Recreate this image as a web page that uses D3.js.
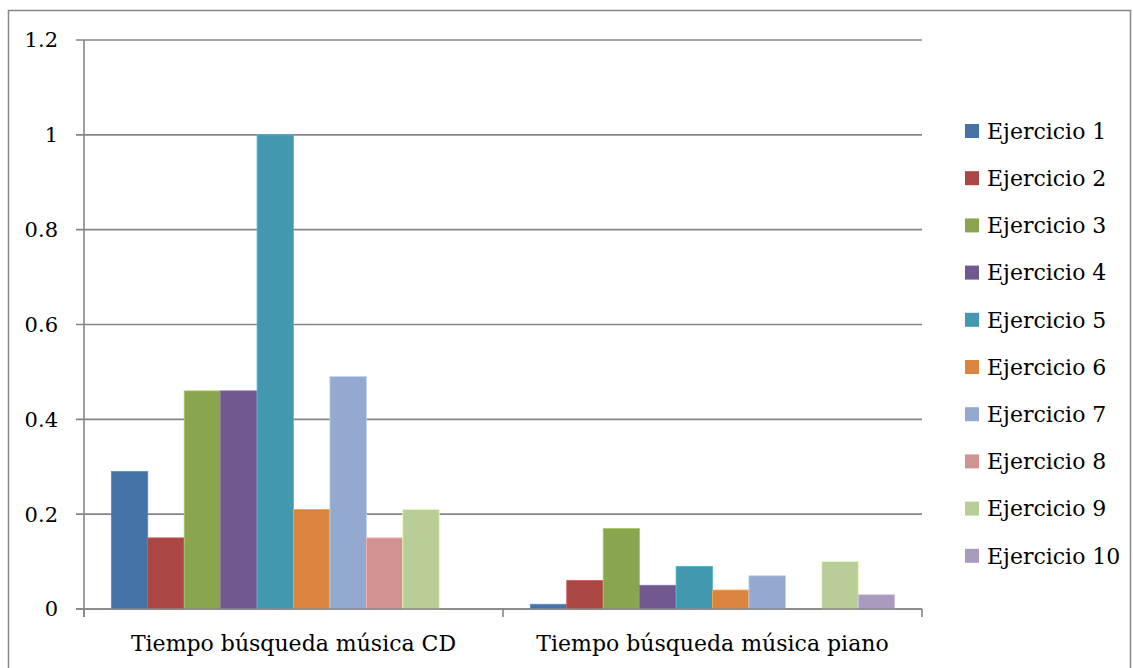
<!DOCTYPE html>
<html>
  <head>
    <meta charset="utf-8">
    <script src="https://d3js.org/d3.v7.min.js"></script>
    <style>
      body { margin: 0; background: white; }
      text { font-family: "DejaVu Serif", serif; fill: #000; }
    </style>
  </head>
  <body>
    <div id="chart"></div>
    <script>
      // data
      const categories = ['Tiempo búsqueda música CD', 'Tiempo búsqueda música piano']
      const series = ['Ejercicio 1', 'Ejercicio 2', 'Ejercicio 3', 'Ejercicio 4', 'Ejercicio 5',
                      'Ejercicio 6', 'Ejercicio 7', 'Ejercicio 8', 'Ejercicio 9', 'Ejercicio 10']
      const cdValues    = [0.29, 0.15, 0.46, 0.46, 1.00, 0.21, 0.49, 0.15, 0.21, 0]
      const pianoValues = [0.01, 0.06, 0.17, 0.05, 0.09, 0.04, 0.07, 0,    0.10, 0.03]
      const yTicks = [0, 0.2, 0.4, 0.6, 0.8, 1, 1.2]
      const colors = ['#4572A7', '#AA4643', '#89A54E', '#71588F', '#4198AF',
                      '#DB843D', '#93A9CF', '#D19392', '#B9CD96', '#A99BBD']

      const W = 1133, H = 668
      const plot = {left: 84, right: 922, top: 40, bottom: 609}
      const grid = '#868686'

      const svg = d3.select('#chart').append('svg')
        .attr('width', W).attr('height', H)

      // outer frame
      svg.append('rect')
        .attr('x', 8.5).attr('y', 10.5)
        .attr('width', 1122).attr('height', 700)
        .attr('fill', 'none').attr('stroke', grid).attr('stroke-width', 1.5)

      const y = d3.scaleLinear().domain([0, 1.2]).range([plot.bottom, plot.top])
      const x0 = d3.scaleBand().domain(categories).range([plot.left, plot.right])
      // excel gap width 150% -> 0.75 bar each side
      const x1 = d3.scaleBand().domain(series)
        .range([0, x0.bandwidth()])
        .paddingOuter(0.75).paddingInner(0)

      // gridlines
      svg.append('g').selectAll('line')
        .data(yTicks)
        .join('line')
          .attr('x1', plot.left - 8).attr('x2', plot.right)
          .attr('y1', d => y(d)).attr('y2', d => y(d))
          .attr('stroke', grid).attr('stroke-width', 1.6)

      // y labels
      svg.append('g').selectAll('text')
        .data(yTicks)
        .join('text')
          .attr('x', 58).attr('y', d => y(d))
          .attr('dy', '0.35em')
          .attr('text-anchor', 'end')
          .style('font-size', '21px')
          .text(d => d3.format('')(d))

      const data = categories.map((c, i) => ({
        cat: c,
        vals: series.map((s, j) => ({s, j, v: i === 0 ? cdValues[j] : pianoValues[j]}))
      }))

      const groups = svg.append('g').selectAll('g')
        .data(data)
        .join('g')
          .attr('transform', d => `translate(${x0(d.cat)},0)`)

      groups.selectAll('rect')
        .data(d => d.vals.filter(e => e.v > 0))
        .join('rect')
          .attr('x', d => x1(d.s))
          .attr('y', d => y(d.v))
          .attr('width', x1.bandwidth())
          .attr('height', d => y(0) - y(d.v))
          .attr('fill', d => colors[d.j])
          .attr('stroke', d => d3.color(colors[d.j]).brighter(0.6))
          .attr('stroke-width', 0.8)

      // axes lines
      svg.append('line')
        .attr('x1', plot.left).attr('x2', plot.left)
        .attr('y1', plot.top).attr('y2', plot.bottom + 8)
        .attr('stroke', grid).attr('stroke-width', 1.6)
      svg.append('line')
        .attr('x1', plot.left - 8).attr('x2', plot.right)
        .attr('y1', plot.bottom).attr('y2', plot.bottom)
        .attr('stroke', grid).attr('stroke-width', 1.6)
      svg.append('g').selectAll('line')
        .data([plot.left, x0(categories[1]), plot.right])
        .join('line')
          .attr('x1', d => d).attr('x2', d => d)
          .attr('y1', plot.bottom).attr('y2', plot.bottom + 8)
          .attr('stroke', grid).attr('stroke-width', 1.6)

      // category labels
      svg.append('g').selectAll('text')
        .data(categories)
        .join('text')
          .attr('x', d => x0(d) + x0.bandwidth() / 2)
          .attr('y', 651)
          .attr('text-anchor', 'middle')
          .style('font-size', '22px')
          .text(d => d)

      // legend
      const legend = svg.append('g').selectAll('g')
        .data(series)
        .join('g')
          .attr('transform', (d, i) => `translate(965,${131 + i * 47.2})`)
      legend.append('rect')
        .attr('x', 0).attr('y', -7)
        .attr('width', 14).attr('height', 14)
        .attr('fill', (d, i) => colors[i])
      legend.append('text')
        .attr('x', 22).attr('dy', '0.35em')
        .style('font-size', '22px')
        .text(d => d)
    </script>
  </body>
</html>
